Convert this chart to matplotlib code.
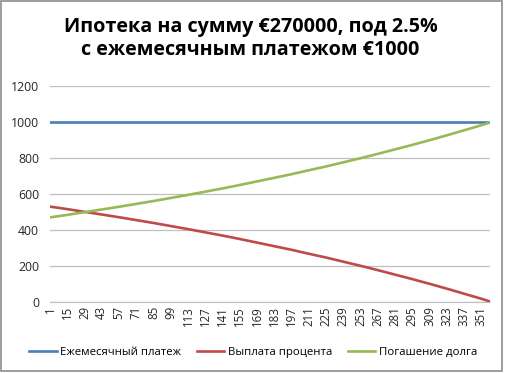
import matplotlib.pyplot as plt
from matplotlib.patches import Rectangle

# месяцы, в которых читались значения (подписи оси + последний месяц)
months = [1, 15, 29, 43, 57, 71, 85, 99, 113, 127, 141, 155, 169, 183, 197,
          211, 225, 239, 253, 267, 281, 295, 309, 323, 337, 351, 358]
tick_labels = [str(m) for m in range(1, 352, 14)]

payment = [1000] * len(months)
principal = [470, 484, 499, 514, 529, 545, 561, 578, 595, 613, 631, 650, 670, 690,
             710, 732, 753, 776, 799, 823, 848, 873, 899, 926, 954, 982, 997]
interest = [530, 516, 501, 486, 471, 455, 439, 422, 405, 387, 369, 350, 330, 310,
            290, 268, 247, 224, 201, 177, 152, 127, 101, 74, 46, 18, 3]

plt.rcParams['font.family'] = ['Open Sans', 'DejaVu Sans']

fig = plt.figure(figsize=(5.06, 3.73), dpi=100)
fig.patches.append(Rectangle((0.002, 0.006), 0.99, 0.99, transform=fig.transFigure,
                             fill=False, edgecolor='#8c8c8c', linewidth=1.2))

ax = fig.add_axes([50 / 506, 71 / 373, 440 / 506, 216 / 373])

ax.plot(months, payment, color='#4A7EBB', linewidth=1.9, label='Ежемесячный платеж')
ax.plot(months, interest, color='#BE4B48', linewidth=1.9, label='Выплата процента')
ax.plot(months, principal, color='#98B954', linewidth=1.9, label='Погашение долга')

ax.set_xlim(1, 358)
ax.set_ylim(0, 1200)
ax.set_yticks(range(0, 1201, 200))
ax.set_xticks(range(1, 352, 14))
ax.set_xticklabels(tick_labels, rotation=90, fontsize=8.3, color='#262626')
ax.tick_params(axis='y', labelsize=8.8, colors='#262626', length=0, pad=8)
ax.tick_params(axis='x', length=0, pad=3)
ax.grid(axis='y', color='#bfbfbf', linewidth=0.9)
ax.set_axisbelow(True)
for side in ['top', 'right', 'left']:
    ax.spines[side].set_visible(False)
ax.spines['bottom'].set_color('#bfbfbf')

fig.text(0.495, 0.897, 'Ипотека на сумму €270000, под 2.5%\nс ежемесячным платежом €1000',
         ha='center', va='center', fontsize=14.2, fontweight='bold', linespacing=1.2)

fig.legend(loc='center', bbox_to_anchor=(0.5, 0.055), ncol=3, frameon=False,
           fontsize=8.2, handlelength=2.4, handletextpad=0.3, columnspacing=1.4)

fig.savefig('out.png', dpi=100)
